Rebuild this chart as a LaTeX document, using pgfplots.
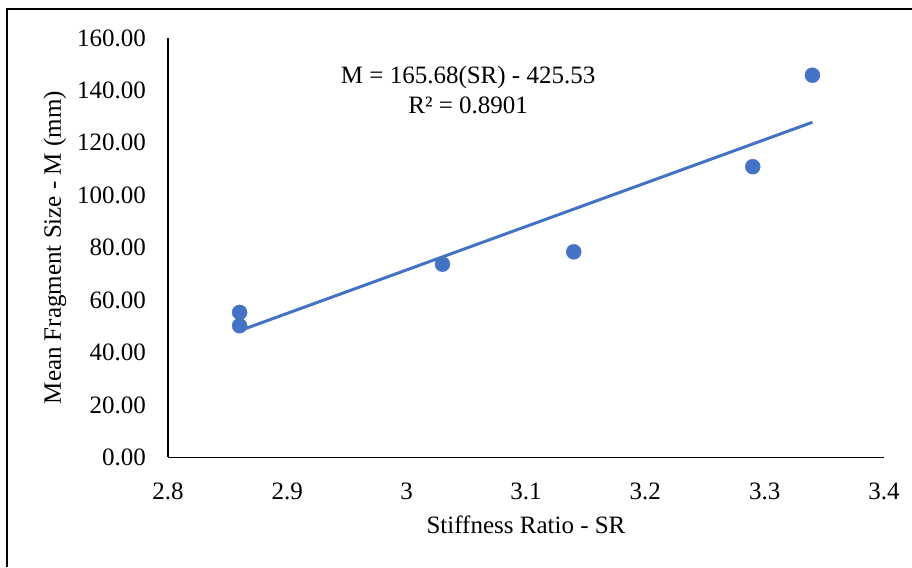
\documentclass[border=0pt]{standalone}
\usepackage{fontspec}
\setmainfont{Liberation Serif}
\usepackage{pgfplots}
\pgfplotsset{compat=1.18}
\definecolor{xlblue}{HTML}{4472C4}

\begin{document}
\begin{tikzpicture}[x=1pt,y=1pt]
  % page extent and outer frame (left and top edges)
  \useasboundingbox (0,0) rectangle (912,-567);
  \draw[line width=2pt, black] (7,-567) -- (7,-9) -- (912,-9);

  \begin{axis}[
    at={(168pt,-457.3pt)}, anchor=south west,
    scale only axis, width=716pt, height=419.3pt,
    xmin=2.8, xmax=3.4, ymin=0, ymax=160,
    axis lines*=left,
    axis line style={-, black, line width=1.3pt},
    major tick length=0pt,
    clip=false,
    font=\fontsize{25}{30}\selectfont,
    xtick={2.8,2.9,3.0,3.1,3.2,3.3,3.4},
    xticklabels={2.8,2.9,3,3.1,3.2,3.3,3.4},
    ytick={0,20,40,60,80,100,120,140,160},
    yticklabel style={/pgf/number format/fixed, /pgf/number format/fixed zerofill,
      /pgf/number format/precision=2, /pgf/number format/assume math mode=true,
      anchor=east, inner sep=0pt, xshift=-22pt},
    xticklabel style={anchor=north, inner sep=0pt, yshift=-25pt},
    xlabel={Stiffness Ratio - SR},
    ylabel={Mean Fragment Size - M (mm)},
    xlabel style={at={(axis description cs:0.5,-0.16)}, anchor=center},
    ylabel style={at={(axis description cs:-0.158,0.5)}, anchor=center},
  ]
    % linear trendline
    \addplot[xlblue, line width=3pt, no marks] coordinates {(2.86,48.31) (3.34,127.84)};
    % measured data
    \addplot[only marks, mark=*, mark size=7.5pt, xlblue, mark options={draw=xlblue, fill=xlblue}]
      coordinates {
        (2.86,55.3) (2.86,50.2) (3.03,73.7) (3.14,78.4) (3.29,110.9) (3.34,145.8)
      };
    \node[align=center, inner sep=0pt, font=\fontsize{25}{30}\selectfont]
      at (axis cs:3.0515,140.2) {M = 165.68(SR) - 425.53\\R² = 0.8901};
  \end{axis}
\end{tikzpicture}
\end{document}
